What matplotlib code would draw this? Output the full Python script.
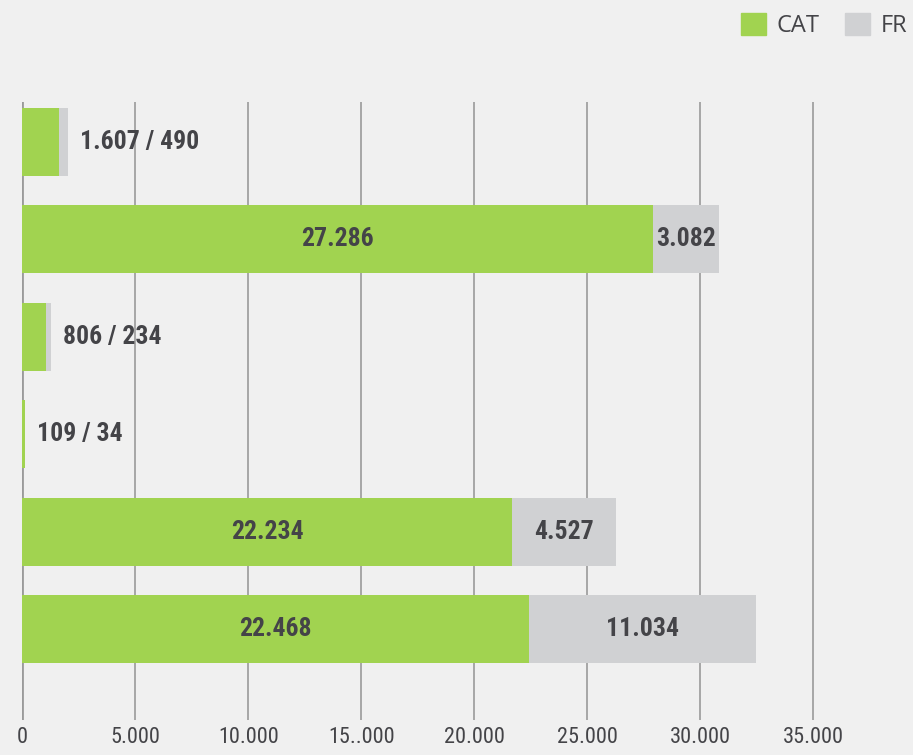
import matplotlib
matplotlib.use("Agg")
import matplotlib.pyplot as plt
from matplotlib.patches import Patch

# valeurs (longueur des barres)
cat_bar = [1607, 27925, 1050, 100, 21668, 22420]
fr_bar = [400, 2920, 200, 40, 4600, 10040]
# valeurs affichees dans les etiquettes
cat_lbl = ["1.607", "27.286", "806", "109", "22.234", "22.468"]
fr_lbl = ["490", "3.082", "234", "34", "4.527", "11.034"]
ticks = [0, 5000, 10000, 15000, 20000, 25000, 30000, 35000]
tick_lbl = ["0", "5.000", "10.000", "15..000", "20.000", "25.000", "30.000", "35.000"]

green = "#a1d350"
grey = "#d0d1d3"
bg = "#f0f0f0"
txt = "#444448"
narrow = ["Roboto Condensed", "Open Sans Condensed", "DejaVu Sans"]

fig = plt.figure(figsize=(9.13, 7.55), dpi=100, facecolor=bg)
W, H = 913, 755
x0, x1 = 22.3, 913
y_top, y_bot = 102, 720
ax = fig.add_axes([x0 / W, 1 - y_bot / H, (x1 - x0) / W, (y_bot - y_top) / H])
ax.set_facecolor(bg)

ypos = list(range(len(cat_bar)))
ax.barh(ypos, cat_bar, height=0.70, color=green, zorder=3)
ax.barh(ypos, fr_bar, left=cat_bar, height=0.70, color=grey, zorder=3)

px = 5000 / 113.0  # unites par pixel
lab = dict(va="center", fontsize=18.5, fontweight="bold", color=txt,
           family=narrow, fontstretch="condensed", zorder=4)
for i in ypos:
    c, f = cat_bar[i], fr_bar[i]
    if c > 10000:
        ax.text(c / 2, i, cat_lbl[i], ha="center", **lab)
        ax.text(c + f / 2, i, fr_lbl[i], ha="center", **lab)
    else:
        ax.text(c + f + 12 * px, i, cat_lbl[i] + " / " + fr_lbl[i], ha="left", **lab)

ax.set_xlim(0, (x1 - x0) * px)
ax.set_ylim(len(cat_bar) - 1 + (y_bot - 629) / 97.4, -(142 - y_top) / 97.4)
ax.set_xticks(ticks)
ax.set_xticklabels(tick_lbl, fontsize=16, color=txt, family=narrow, fontstretch="condensed")
ax.set_yticks([])
ax.tick_params(axis="x", length=0, pad=5)
ax.grid(axis="x", color="#9a9a9a", linewidth=1.2, zorder=1)
ax.xaxis.get_gridlines()[0].set_linewidth(2)
for s in ax.spines.values():
    s.set_visible(False)

handles = [Patch(color=green, label="CAT"), Patch(color=grey, label="FR")]
fig.legend(handles=handles, loc="upper right", bbox_to_anchor=(1.012, 1.005), ncol=2,
           frameon=False, handlelength=1.06, handleheight=1.06,
           handletextpad=0.45, columnspacing=1.1, borderaxespad=0.3,
           prop={"family": ["Open Sans", "DejaVu Sans"], "size": 17}, labelcolor=txt)

fig.savefig("out.png", dpi=100, facecolor=bg)
